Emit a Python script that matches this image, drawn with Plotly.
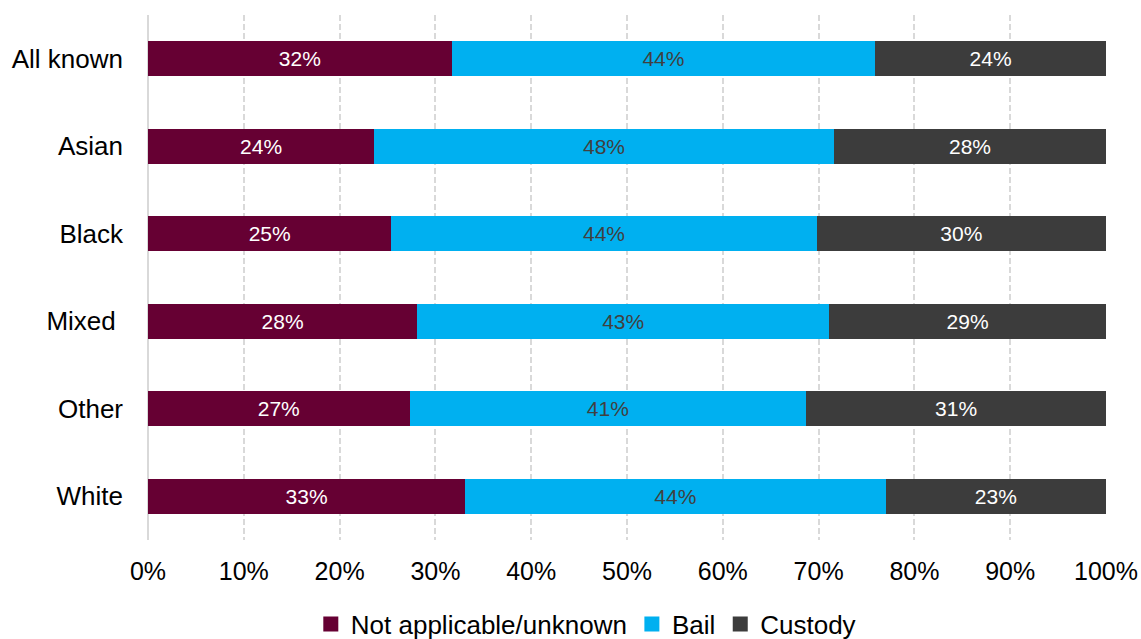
import plotly.graph_objects as go

# Remand outcome by ethnic group (% of known outcomes)
groups = ["All known", "Asian", "Black", "Mixed ", "Other", "White"]
not_applicable = [31.7, 23.6, 25.4, 28.1, 27.3, 33.1]
bail = [44.2, 48.0, 44.4, 43.0, 41.4, 43.9]
custody = [24.1, 28.4, 30.2, 28.9, 31.3, 23.0]

series = [
    ("Not applicable/unknown", not_applicable, "#660033", "white"),
    ("Bail", bail, "#00B0F0", "#404040"),
    ("Custody", custody, "#3C3C3C", "white"),
]

FONT = "Liberation Sans, Arial, sans-serif"

fig = go.Figure()
for name, vals, color, txtcolor in series:
    fig.add_trace(go.Bar(
        name=name,
        y=groups,
        x=vals,
        orientation="h",
        marker=dict(color=color, line=dict(width=0)),
        texttemplate="%{x:.0f}%",
        textposition="inside",
        insidetextanchor="middle",
        textangle=0,
        insidetextfont=dict(color=txtcolor, size=21, family=FONT),
        hoverinfo="skip",
        showlegend=False,
    ))

# Legend entries with larger square swatches
for name, _, color, _ in series:
    fig.add_trace(go.Scatter(
        name=name,
        x=[None],
        y=[None],
        mode="markers",
        marker=dict(symbol="square", size=15, color=color),
        hoverinfo="skip",
        showlegend=True,
    ))

fig.update_layout(
    barmode="stack",
    bargap=0.6,
    width=1141,
    height=639,
    margin=dict(l=148, r=35, t=15, b=99, autoexpand=False),
    paper_bgcolor="white",
    plot_bgcolor="white",
    font=dict(family=FONT, color="black"),
    uniformtext=dict(mode=False),
    xaxis=dict(
        range=[0, 100],
        tickvals=[0, 10, 20, 30, 40, 50, 60, 70, 80, 90, 100],
        ticktext=["0%", "10%", "20%", "30%", "40%", "50%", "60%", "70%", "80%", "90%", "100%"],
        tickfont=dict(size=25, color="black"),
        tickangle=0,
        showgrid=True,
        gridcolor="#D9D9D9",
        griddash="6px,3px",
        gridwidth=1.5,
        zeroline=True,
        zerolinecolor="#D9D9D9",
        zerolinewidth=2,
        showline=False,
        ticks="",
        ticklabelstandoff=14,
        automargin=False,
        fixedrange=True,
    ),
    yaxis=dict(
        autorange="reversed",
        tickfont=dict(size=26, color="black"),
        showgrid=False,
        showline=False,
        zeroline=False,
        ticks="",
        ticklabelstandoff=24,
        automargin=False,
        fixedrange=True,
    ),
    legend=dict(
        orientation="h",
        traceorder="normal",
        itemsizing="trace",
        x=0.457,
        xanchor="center",
        y=-0.16,
        yanchor="middle",
        font=dict(size=26, color="black"),
        tracegroupgap=0,
        bgcolor="rgba(0,0,0,0)",
    ),
    showlegend=True,
)

fig.write_html("out.html")
